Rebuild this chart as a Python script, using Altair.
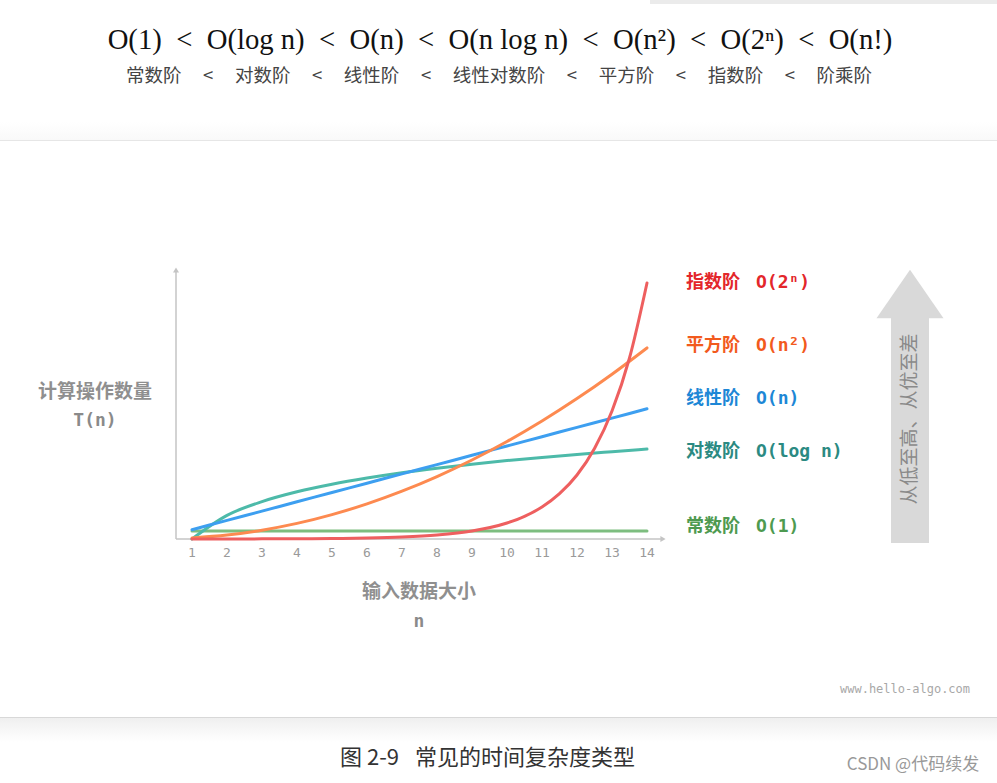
import altair as alt
import pandas as pd

# ---------------- data ----------------
n_vals = [1, 2, 3, 4, 5, 6, 7, 8, 9, 10, 11, 12, 13, 14]
const_vals = [8, 8, 8, 8, 8, 8, 8, 8, 8, 8, 8, 8, 8, 8]
log_vals = [0, 23.6, 37.4, 47.2, 54.8, 61.0, 66.3, 70.8, 74.8, 78.4, 81.6, 84.6, 87.3, 89.9]
linear_vals = [9.3, 18.6, 27.9, 37.2, 46.5, 55.8, 65.1, 74.4, 83.7, 93.0, 102.3, 111.6, 120.9, 130.2]
quad_vals = [1.0, 3.9, 8.8, 15.6, 24.4, 35.1, 47.8, 62.4, 79.0, 97.5, 118.0, 140.4, 164.8, 191.1]
exp_n = [1, 2, 3, 4, 5, 6, 7, 8, 9, 10, 10.5, 11, 11.5, 12, 12.5, 13, 13.5, 14]
exp_vals = [0.03, 0.06, 0.13, 0.25, 0.5, 1, 2, 4, 8, 16, 22.6, 32, 45.3, 64, 90.5, 128, 181, 256]

series_names = ["常数阶", "对数阶", "线性阶", "平方阶", "指数阶"]
series_formulas = ["O(1)", "O(log n)", "O(n)", "O(n²)", "O(2ⁿ)"]
line_colors = ["#7dbd7f", "#4dbaa9", "#3d9ff0", "#fd8a50", "#ee5f5f"]
label_colors = ["#4e9a50", "#2b8a82", "#1d87d6", "#f25a1d", "#e3262b"]
label_ypx = [527, 452, 399, 346, 283]

formula_line = "O(1)\u2002<\u2002O(log n)\u2002<\u2002O(n)\u2002<\u2002O(n log n)\u2002<\u2002O(n²)\u2002<\u2002O(2ⁿ)\u2002<\u2002O(n!)"
sep = "\u2006\u2003<\u2003\u2006"
order_line = sep.join(["常数阶", "对数阶", "线性阶", "线性对数阶", "平方阶", "指数阶", "阶乘阶"])

# ---------------- layout ----------------
OX, OY = 192, 268          # plot origin in page pixels
PW, PH = 455, 271          # plot area
W, H = 997, 783

one = pd.DataFrame({"k": [0]})
xscale = alt.Scale(domain=[1, 14], nice=False, zero=False)
yscale = alt.Scale(domain=[0, 271], nice=False, zero=False)

CJK = "Noto Sans CJK SC"
MONO = "DejaVu Sans Mono"


def txt(s, x, y, size, color, font=CJK, weight="normal", align="center", angle=0, style="normal"):
    return alt.Chart(one).mark_text(
        text=s, fontSize=size, color=color, font=font, fontWeight=weight,
        align=align, baseline="middle", angle=angle, fontStyle=style
    ).encode(x=alt.value(x - OX), y=alt.value(y - OY))


def rect(x1, x2, y1, y2, color):
    return alt.Chart(one).mark_rect(color=color, opacity=1).encode(
        x=alt.value(x1 - OX), x2=alt.value(x2 - OX),
        y=alt.value(y1 - OY), y2=alt.value(y2 - OY))


def grad_rect(x1, x2, y1, y2, c1, c2):
    g = alt.Gradient(gradient="linear",
                     stops=[alt.GradientStop(color=c1, offset=0),
                            alt.GradientStop(color=c2, offset=1)],
                     x1=0, x2=0, y1=0, y2=1)
    return alt.Chart(one).mark_rect(color=g, opacity=1).encode(
        x=alt.value(x1 - OX), x2=alt.value(x2 - OX),
        y=alt.value(y1 - OY), y2=alt.value(y2 - OY))


def hline(x1, x2, y, color, w=1):
    return alt.Chart(one).mark_rule(color=color, strokeWidth=w).encode(
        x=alt.value(x1 - OX), x2=alt.value(x2 - OX), y=alt.value(y - OY))


def vline(x, y1, y2, color, w=1):
    return alt.Chart(one).mark_rule(color=color, strokeWidth=w).encode(
        x=alt.value(x - OX), y=alt.value(y1 - OY), y2=alt.value(y2 - OY))


layers = []

# page decorations
layers.append(rect(650, 997, 0, 4, "#ebebeb"))
layers.append(grad_rect(0, 997, 122, 140, "#ffffff", "#f9f9f9"))
layers.append(hline(0, 997, 140.5, "#e6e6e6"))
layers.append(hline(0, 997, 717.5, "#d8d8d8"))
layers.append(grad_rect(0, 997, 718, 742, "#efefef", "#ffffff"))

# formula header
layers.append(txt(formula_line, 500, 40, 28.7, "#111111", font="Liberation Serif"))
layers.append(txt(order_line, 499, 76, 18.5, "#444444"))

# axes
axis_c = "#c4c4c4"
layers.append(hline(176, 661, 539, axis_c, 1.5))
layers.append(vline(176, 539, 272, axis_c, 1.5))
layers.append(alt.Chart(one).mark_point(shape="triangle-right", size=36, filled=True,
                                        color=axis_c, opacity=1)
              .encode(x=alt.value(663 - OX), y=alt.value(539 - OY)))
layers.append(alt.Chart(one).mark_point(shape="triangle-up", size=36, filled=True,
                                        color=axis_c, opacity=1)
              .encode(x=alt.value(176 - OX), y=alt.value(270 - OY)))

# tick labels
ticks = pd.DataFrame({"n": n_vals})
layers.append(alt.Chart(ticks).mark_text(font=MONO, fontSize=13, color="#9a9a9a",
                                         baseline="middle")
              .encode(x=alt.X("n:Q", scale=xscale, axis=None),
                      y=alt.value(553 - OY), text=alt.Text("n:Q", format="d")))

# axis titles
layers.append(txt("计算操作数量", 95, 392, 19, "#8f8f8f", weight="bold"))
layers.append(txt("T(n)", 95, 421, 18, "#8a8a8a", font=MONO, weight="bold"))
layers.append(txt("输入数据大小", 419, 592, 19, "#8f8f8f", weight="bold"))
layers.append(txt("n", 419, 622, 18, "#8a8a8a", font=MONO, weight="bold"))

# curves
series_data = [
    (n_vals, const_vals),
    (n_vals, log_vals),
    (n_vals, linear_vals),
    (n_vals, quad_vals),
    (exp_n, exp_vals),
]
for (xs, ys), col in zip(series_data, line_colors):
    df = pd.DataFrame({"n": xs, "v": ys})
    layers.append(alt.Chart(df).mark_line(color=col, strokeWidth=3, strokeCap="round",
                                          interpolate="monotone")
                  .encode(x=alt.X("n:Q", scale=xscale, axis=None),
                          y=alt.Y("v:Q", scale=yscale, axis=None)))

# series labels
for name, f, col, ypx in zip(series_names, series_formulas, label_colors, label_ypx):
    layers.append(txt(name, 686, ypx, 18, col, weight="bold", align="left"))
    layers.append(txt(f, 756, ypx, 18, col, font=MONO, weight="bold", align="left"))

# big arrow
arrow_c = "#d9d9d9"
layers.append(rect(891, 929, 317, 543, arrow_c))
layers.append(alt.Chart(one).mark_point(shape="M-1,0.727L0,-0.727L1,0.727Z", size=4489,
                                        filled=True, color=arrow_c, opacity=1, strokeWidth=0)
              .encode(x=alt.value(910 - OX), y=alt.value(294 - OY)))
layers.append(txt("从低至高、从优至差", 910, 419, 19, "#8a8a8a", angle=270))

# watermarks / caption
layers.append(txt("www.hello-algo.com", 905, 689, 12, "#a8a8a8", font=MONO))
layers.append(txt("图 2-9", 340, 758, 22, "#333333", align="left"))
layers.append(txt("常见的时间复杂度类型", 415, 758, 22, "#333333", align="left"))
layers.append(txt("CSDN @代码续发", 913, 765, 17, "#999999"))

chart = alt.layer(*layers).properties(
    width=PW, height=PH,
    padding={"left": OX, "top": OY, "right": W - OX - PW, "bottom": H - OY - PH},
    autosize=alt.AutoSizeParams(type="none"),
    background="white",
).configure_view(strokeWidth=0)

chart.save("out.html", embed_options={"renderer": "svg", "actions": False})
